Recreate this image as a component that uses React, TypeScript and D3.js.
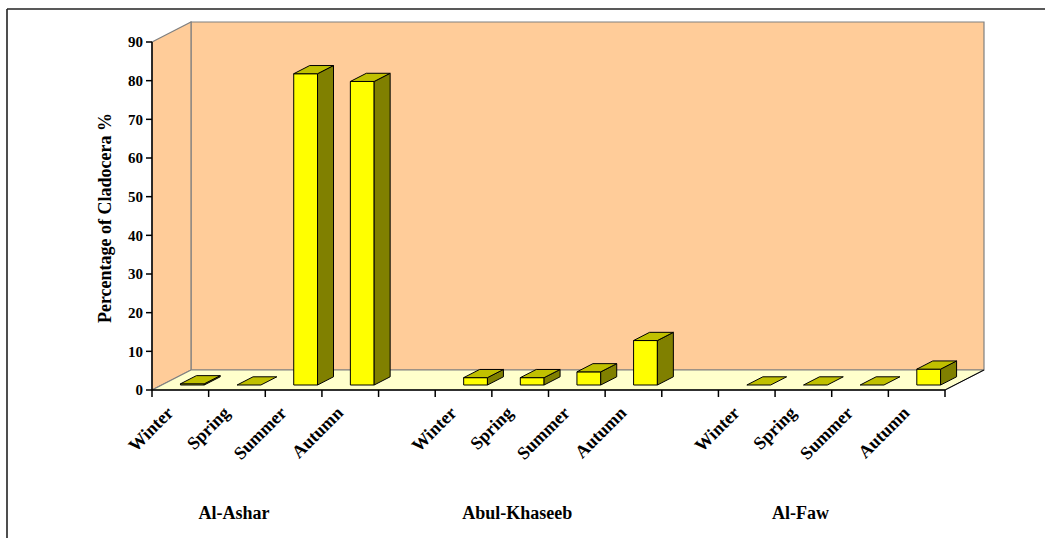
import React from "react";
import * as d3 from "d3";

// categories along the x axis (blank slots separate the stations)
const seasons = ["Winter", "Spring", "Summer", "Autumn"];
const stations = ["Al-Ashar", "Abul-Khaseeb", "Al-Faw"];
const alAshar = [0.3, 0, 80.5, 78.5];
const abulKhaseeb = [1.9, 1.9, 3.4, 11.5];
const alFaw = [0, 0, 0, 4.1];
const yTicks = [0, 10, 20, 30, 40, 50, 60, 70, 80, 90];

const W = 1045;
const H = 538;
const DX = 39; // depth offset of the 3D box
const DY = 20;

type Cell = { key: string; label: string; value: number | null; group: number };

const cells: Cell[] = [];
[alAshar, abulKhaseeb, alFaw].forEach((vals, g) => {
  vals.forEach((v, i) =>
    cells.push({ key: `${g}-${i}`, label: seasons[i], value: v, group: g })
  );
  if (g < 2) cells.push({ key: `gap-${g}`, label: "", value: null, group: g });
});

const App = () => {
  const x = d3
    .scaleBand()
    .domain(cells.map((c) => c.key))
    .range([152, 945])
    .padding(0);
  const y = d3.scaleLinear().domain([0, 90]).range([390, 42]);
  const bw = x.bandwidth();

  // project (screen x at front, value, depth fraction) to screen
  const p = (sx: number, v: number, z: number) =>
    `${sx + z * DX},${y(v) - z * DY}`;
  const poly = (pts: string[]) => pts.join(" ");

  const x0 = 152;
  const x1 = 945;
  const yTop = y(90);
  const yBot = y(0);

  const font = "'Liberation Serif', 'Times New Roman', serif";

  return (
    <div style={{ position: "absolute", left: 0, top: 0 }}>
      <svg width={W} height={H} style={{ display: "block", background: "#fff" }}>
        {/* outer frame */}
        <line x1={7} y1={9} x2={W} y2={9} stroke="#222" strokeWidth={1.6} />
        <line x1={7} y1={9} x2={7} y2={H} stroke="#222" strokeWidth={1.6} />

        {/* back wall */}
        <polygon
          points={poly([p(x0, 90, 1), p(x1, 90, 1), p(x1, 0, 1), p(x0, 0, 1)])}
          fill="#FFCC99"
          stroke="#808080"
          strokeWidth={1.2}
        />
        {/* left wall */}
        <polygon
          points={poly([p(x0, 90, 0), p(x0, 90, 1), p(x0, 0, 1), p(x0, 0, 0)])}
          fill="#FFCC99"
          stroke="#808080"
          strokeWidth={1.2}
        />
        {/* floor */}
        <polygon
          points={poly([p(x0, 0, 0), p(x0, 0, 1), p(x1, 0, 1), p(x1, 0, 0)])}
          fill="#FFFFCC"
          stroke="#808080"
          strokeWidth={1.2}
        />
        <line
          x1={x1}
          y1={yBot}
          x2={x1 + DX}
          y2={yBot - DY}
          stroke="#000"
          strokeWidth={1}
        />

        {/* bars */}
        {cells
          .filter((c) => c.value !== null)
          .map((c) => {
            const v = c.value as number;
            const bx0 = (x(c.key) as number) + 0.33 * bw;
            const bx1 = (x(c.key) as number) + 0.75 * bw;
            const z0 = 0.25;
            const z1 = 0.66;
            return (
              <g key={c.key} stroke="#000" strokeWidth={1} strokeLinejoin="round">
                {v > 0 && (
                  <polygon
                    points={poly([p(bx0, 0, z0), p(bx1, 0, z0), p(bx1, v, z0), p(bx0, v, z0)])}
                    fill="#FFFF00"
                  />
                )}
                {v > 0 && (
                  <polygon
                    points={poly([p(bx1, 0, z0), p(bx1, 0, z1), p(bx1, v, z1), p(bx1, v, z0)])}
                    fill="#808000"
                  />
                )}
                <polygon
                  points={poly([p(bx0, v, z0), p(bx1, v, z0), p(bx1, v, z1), p(bx0, v, z1)])}
                  fill="#C0C000"
                />
              </g>
            );
          })}

        {/* y axis */}
        <line x1={x0} y1={yTop} x2={x0} y2={yBot} stroke="#000" strokeWidth={1.5} />
        {yTicks.map((t) => (
          <g key={t}>
            <line x1={x0 - 6} x2={x0} y1={y(t)} y2={y(t)} stroke="#000" strokeWidth={1.5} />
            <text
              x={x0 - 9}
              y={y(t)}
              dy="0.35em"
              textAnchor="end"
              fontFamily={font}
              fontWeight="bold"
              fontSize={15}
            >
              {t}
            </text>
          </g>
        ))}
        <text
          transform={`translate(111,218) rotate(-90)`}
          textAnchor="middle"
          fontFamily={font}
          fontWeight="bold"
          fontSize={18}
        >
          Percentage of Cladocera %
        </text>

        {/* x axis */}
        <line x1={x0} y1={yBot} x2={x1} y2={yBot} stroke="#000" strokeWidth={1.5} />
        {[...cells.map((c) => x(c.key) as number), x1].map((tx, i) => (
          <line key={i} x1={tx} x2={tx} y1={yBot} y2={yBot + 7} stroke="#000" strokeWidth={1.5} />
        ))}
        {cells.map((c) => {
          const cx = (x(c.key) as number) + bw / 2 - 6;
          return (
            <text
              key={c.key}
              transform={`translate(${cx},${414}) rotate(-45)`}
              textAnchor="end"
              fontFamily={font}
              fontWeight="bold"
              fontSize={18}
            >
              {c.label}
            </text>
          );
        })}

        {/* station labels */}
        {stations.map((s, g) => {
          const key = `${g}-1`;
          return (
            <text
              key={s}
              x={(x(key) as number) + bw / 2 - 3}
              y={519}
              textAnchor="middle"
              fontFamily={font}
              fontWeight="bold"
              fontSize={18}
            >
              {s}
            </text>
          );
        })}
      </svg>
    </div>
  );
};

export default App;
